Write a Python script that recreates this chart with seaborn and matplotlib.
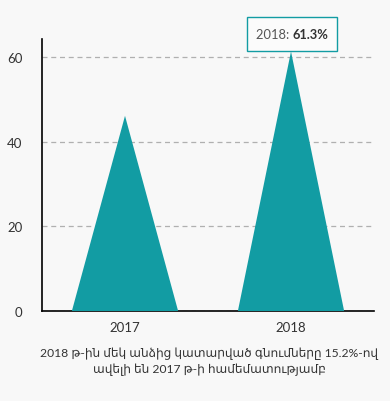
import matplotlib
matplotlib.use("Agg")
import matplotlib.pyplot as plt
import matplotlib.transforms as mtransforms
import seaborn as sns
import pandas as pd
from matplotlib.patches import Polygon, Rectangle
from matplotlib.offsetbox import TextArea, HPacker, AnnotationBbox

# Data
years = ["2017", "2018"]
shares = [46.1, 61.3]
yticks = [0, 20, 40, 60]
caption = "2018 թ-ին մեկ անձից կատարված գնումները 15.2%-ով\nավելի են 2017 թ-ի համեմատությամբ"
tooltip_label = "2018: "
tooltip_value = "61.3%"

teal = "#129ca3"
bg = "#f8f8f8"

sns.set_theme(style="white")
plt.rcParams["font.family"] = ["Lato", "DejaVu Sans"]

df = pd.DataFrame({"year": years, "share": shares})

fig = plt.figure(figsize=(3.9, 4.02), dpi=100, facecolor=bg)
ax = fig.add_axes([0.1077, 0.2239, 0.8513, 0.6766])
ax.set_facecolor(bg)

sns.barplot(data=df, x="year", y="share", color=teal, width=0.64, ax=ax)

# turn each bar into a triangle (pyramid style)
for p in list(ax.patches):
    x0, w, h = p.get_x(), p.get_width(), p.get_height()
    tri = Polygon([(x0, 0), (x0 + w / 2, h), (x0 + w, 0)], closed=True,
                  facecolor=teal, edgecolor="none", zorder=3)
    ax.add_patch(tri)
    p.remove()

ax.set_xlim(-0.5, 1.5)
ax.set_ylim(0, 64.25)
ax.set_yticks(yticks)
ax.yaxis.grid(True, linestyle=(0, (4, 3)), color="#b0b0b0", linewidth=0.9)
ax.set_axisbelow(True)
ax.set_xlabel("")
ax.set_ylabel("")
for s in ["top", "right"]:
    ax.spines[s].set_visible(False)
for s in ["left", "bottom"]:
    ax.spines[s].set_color("black")
    ax.spines[s].set_linewidth(1.2)
ax.tick_params(axis="y", length=0, pad=14, labelsize=9.5, labelcolor="#333333")
ax.tick_params(axis="x", length=0, pad=7, labelsize=9.5, labelcolor="#333333")

# tooltip box anchored above the 2018 peak (sizes in inches)
anchor = fig.dpi_scale_trans + mtransforms.ScaledTranslation(1, shares[1], ax.transData)
shadow = Rectangle((-0.43, -0.005), 0.9, 0.34, transform=anchor, facecolor="#e2e2e2",
                   edgecolor="none", zorder=5, clip_on=False)
box = Rectangle((-0.44, 0.005), 0.9, 0.34, transform=anchor, facecolor="#fbfbfb",
                edgecolor=teal, linewidth=1.0, zorder=6, clip_on=False)
ax.add_artist(shadow)
ax.add_artist(box)

parts = HPacker(children=[
    TextArea(tooltip_label, textprops=dict(fontsize=9.3, color="#555555")),
    TextArea(tooltip_value, textprops=dict(fontsize=9.3, color="#333333", fontweight="bold")),
], align="baseline", pad=0, sep=0)
ab = AnnotationBbox(parts, xy=(1, shares[1]), xybox=(0.5, 12.6), boxcoords="offset points",
                    frameon=False, annotation_clip=False)
ab.set_zorder(7)
ax.add_artist(ab)

fig.text(209 / 390, (402 - 362) / 402, caption, ha="center", va="center",
         fontsize=8.7, color="#333333", linespacing=1.4)

fig.savefig("out.png", dpi=100, facecolor=bg)
